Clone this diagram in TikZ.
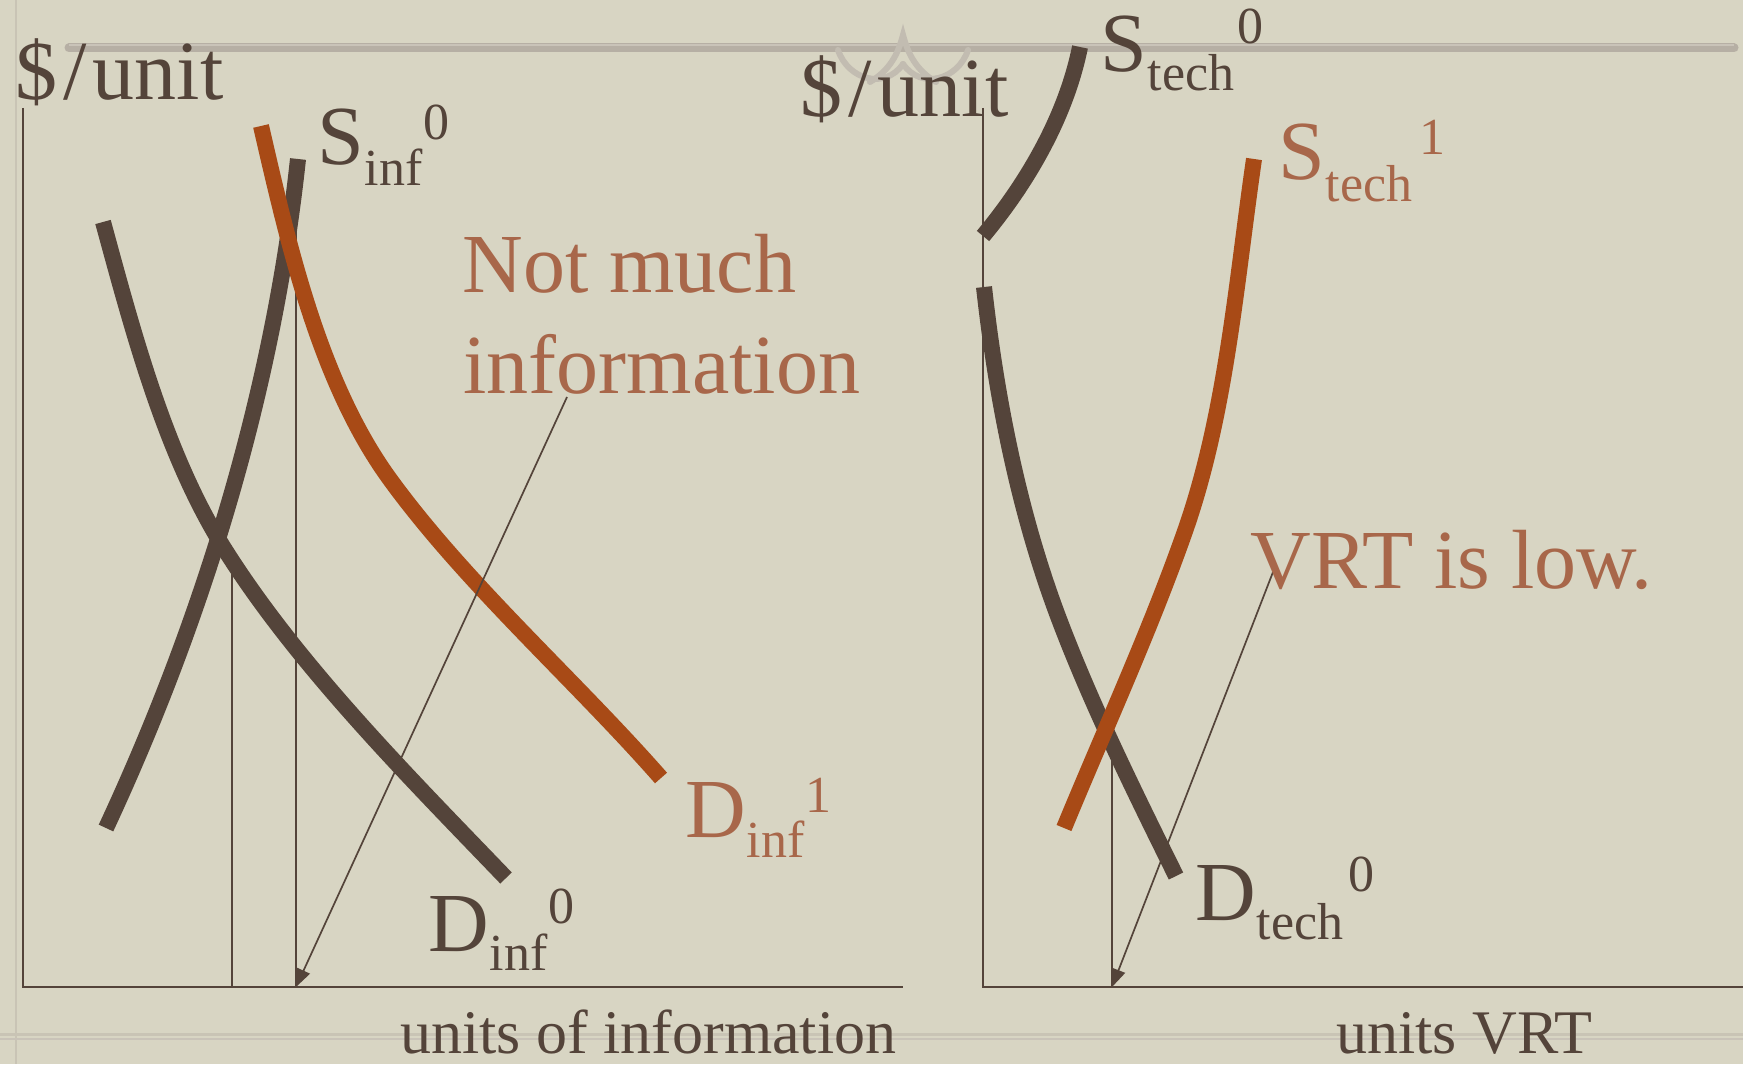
\documentclass[tikz,border=0pt]{standalone}
\usepackage{fontspec}
\setmainfont{Liberation Serif}
\usetikzlibrary{arrows.meta,calc}
\definecolor{bg}{HTML}{D8D5C3}
\definecolor{dkbrown}{HTML}{54443A}
\definecolor{rust}{HTML}{A84A16}
\definecolor{rusttext}{HTML}{A8674A}
\definecolor{rulec}{HTML}{B6AFA4}
\definecolor{rulehi}{HTML}{C9C3B8}
\definecolor{faint}{HTML}{C9C4B5}
\definecolor{orn}{HTML}{C2BCB1}
\begin{document}
\begin{tikzpicture}[x=0.5pt,y=-0.5pt,
  curve/.style={line width=8pt},
  axisline/.style={line width=1pt, draw=dkbrown},
  thinline/.style={line width=0.85pt, draw=dkbrown},
  pointer/.style={line width=0.85pt, draw=dkbrown, -{Triangle[length=9pt,width=7pt]}},
  big/.style={inner sep=0pt, anchor=base west, font=\fontsize{42}{50}\selectfont},
  small/.style={inner sep=0pt, anchor=base west, font=\fontsize{26}{31}\selectfont},
  axlabel/.style={inner sep=0pt, anchor=base west, font=\fontsize{31}{37}\selectfont, text=dkbrown},
  ornline/.style={line width=3pt, draw=orn, line cap=round}
]
\useasboundingbox (0,0) rectangle (1743,1064);
\fill[bg] (0,0) rectangle (1743,1064);

% template decorations
\draw[line width=1.2pt, draw=faint] (16,0) -- (16,1064);
\draw[line width=1.5pt, draw=faint] (0,1034) -- (1743,1034);
\draw[line width=0.8pt, draw=rulehi] (0,1039) -- (1743,1039);
\draw[line width=4.5pt, draw=rulec, line cap=round] (69,48) -- (1734,48);
\draw[line width=1pt, draw=rulehi] (69,45.5) -- (1734,45.5);
\draw[ornline] (838,50) .. controls (848,80) and (885,90) .. (903,64);
\draw[ornline] (968,50) .. controls (958,80) and (921,90) .. (903,64);
\draw[ornline] (870,82) .. controls (890,70) and (898,54) .. (903,35) .. controls (908,54) and (916,70) .. (936,82);

% axes
\coordinate (Ltop) at (23,108);
\coordinate (Lorig) at (23,987);
\coordinate (Lend) at (903,987);
\draw[axisline] (Ltop) -- (Lorig) -- (Lend);
\coordinate (Rtop) at (983,108);
\coordinate (Rorig) at (983,987);
\coordinate (Rend) at (1743,987);
\draw[axisline] (Rtop) -- (Rorig) -- (Rend);

% vertical guide lines
\coordinate (v1t) at (232,560);
\coordinate (v1b) at (232,987);
\coordinate (v2t) at (296,162);
\coordinate (v2b) at (296,987);
\coordinate (v3t) at (1112,745);
\coordinate (v3b) at (1112,987);
\draw[thinline] (v1t) -- (v1b);
\draw[thinline] (v2t) -- (v2b);
\draw[thinline] (v3t) -- (v3b);

% curves (dark first, rust on top)
\draw[curve, dkbrown] (106,828) .. controls (175,680) and (268,440) .. (298,159);
\draw[curve, dkbrown] (103,222) .. controls (132,328) and (164,451) .. (222,545)
                                 .. controls (296,664) and (409,777) .. (506,878);
\draw[curve, dkbrown] (983,236) .. controls (1028,182) and (1066,116) .. (1080,47);
\draw[curve, dkbrown] (984,287) .. controls (996,396) and (1018,508) .. (1056,611)
                                 .. controls (1089,700) and (1134,791) .. (1176,876);
\draw[curve, rust] (261,126) .. controls (288,243) and (319,381) .. (389,478)
                              .. controls (465,583) and (575,680) .. (661,778);
\draw[curve, rust] (1064,828) .. controls (1104,731) and (1149,633) .. (1184,534)
                               .. controls (1226,416) and (1236,283) .. (1254,159);

% pointers
\coordinate (p1s) at (567,397);
\coordinate (p1e) at (296,987);
\coordinate (p2s) at (1273,572);
\coordinate (p2e) at (1112,987);
\draw[pointer] (p1s) -- (p1e);
\draw[pointer] (p2s) -- (p2e);

% axis labels
\node[big, text=dkbrown] (yl) at (15,100) {\$\kern3pt/\kern3pt unit};
\node[big, text=dkbrown] (yr) at (800,117) {\$\kern3pt/\kern3pt unit};
\node[axlabel] (xl) at (400,1053) {units of information};
\node[axlabel] (xr) at (1336,1053) {units VRT};

% S_inf^0
\node[big, text=dkbrown] (sinf) at (317,165) {S};
\node[small, text=dkbrown] (sinfsub) at ($(sinf.base east)+(0,20)$) {inf};
\node[small, text=dkbrown] (sinfsup) at ($(sinfsub.base east)+(0,-45)$) {0};

% D_inf^0
\node[big, text=dkbrown] (dinf) at (428,951) {D};
\node[small, text=dkbrown] (dinfsub) at ($(dinf.base east)+(0,19)$) {inf};
\node[small, text=dkbrown] (dinfsup) at ($(dinfsub.base east)+(0,-47)$) {0};

% D_inf^1
\node[big, text=rusttext] (dinfa) at (685,837) {D};
\node[small, text=rusttext] (dinfasub) at ($(dinfa.base east)+(0,20)$) {inf};
\node[small, text=rusttext] (dinfasup) at ($(dinfasub.base east)+(0,-45)$) {1};

% S_tech^0
\node[big, text=dkbrown] (stech) at (1100,72) {S};
\node[small, text=dkbrown] (stechsub) at ($(stech.base east)+(0,19)$) {tech};
\node[small, text=dkbrown] (stechsup) at ($(stechsub.base east)+(2,-47)$) {0};

% S_tech^1
\node[big, text=rusttext] (stecha) at (1278,180) {S};
\node[small, text=rusttext] (stechasub) at ($(stecha.base east)+(0,22)$) {tech};
\node[small, text=rusttext] (stechasup) at ($(stechasub.base east)+(6,-47)$) {1};

% D_tech^0
\node[big, text=dkbrown] (dtech) at (1195,920) {D};
\node[small, text=dkbrown] (dtechsub) at ($(dtech.base east)+(0,19)$) {tech};
\node[small, text=dkbrown] (dtechsup) at ($(dtechsub.base east)+(4,-48)$) {0};

% annotations
\node[big, text=rusttext] (nm1) at (462,292) {Not much};
\node[big, text=rusttext] (nm2) at (463,393) {information};
\node[big, text=rusttext] (vrt) at (1250,588) {VRT is low.};
\end{tikzpicture}
\end{document}
